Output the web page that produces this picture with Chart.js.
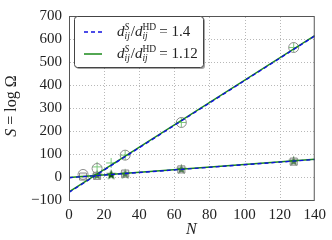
<!DOCTYPE html>
<html>
<head>
<meta charset="utf-8">
<script src="https://cdn.jsdelivr.net/npm/chart.js@4"></script>
<style>
  html, body { margin: 0; padding: 0; background: #fff; }
  #wrap { width: 332px; height: 240px; }
</style>
</head>
<body>
<div id="wrap"><canvas id="chart" width="332" height="240"></canvas></div>
<script>
// Datos
const fitN = [0, 140];
const steepBlue = [-67, 613];
const steepGreen = [-65, 615];
const flatBlue = [-3, 76];
const flatGreen = [-2, 77];

const circleN = [8, 16, 32, 64, 128];
const circleS = [11, 37, 95, 237, 563];
const squareN = [8, 16, 32, 64, 128];
const squareS = [2, 5, 15, 33, 67];
const starN = [16, 24, 32, 64, 128];
const starS = [7, 9, 12, 33, 68];
const plusN = [16, 24, 32, 64, 128];
const plusS = [44, 61, 95, 237, 563];

const legendRatios = ['1.4', '1.12'];
const serif = '"Liberation Serif", "DejaVu Serif", serif';

const BLUE = '#1010e0';
const GREEN = '#1a8a1a';
const GRAY = '#8c8c8c';

const pts = (xs, ys) => xs.map((x, i) => ({ x: x, y: ys[i] }));

// Estrella rellena como imagen de punto
function makeStar(r, color) {
    const c = document.createElement('canvas');
    c.width = c.height = r * 2 + 2;
    const g = c.getContext('2d');
    g.fillStyle = color;
    g.beginPath();
    for (let i = 0; i < 10; i++) {
        const rad = i % 2 === 0 ? r : r * 0.42;
        const ang = -Math.PI / 2 + i * Math.PI / 5;
        const px = r + 1 + rad * Math.cos(ang);
        const py = r + 1 + rad * Math.sin(ang);
        if (i === 0) g.moveTo(px, py); else g.lineTo(px, py);
    }
    g.closePath();
    g.fill();
    return c;
}
const starImg = makeStar(5.5, '#0b550b');

// Rejilla punteada (antes de los datos)
const dottedGrid = {
    id: 'dottedGrid',
    beforeDatasetsDraw(chart) {
        const ctx = chart.ctx;
        const a = chart.chartArea;
        const xs = chart.scales.x, ys = chart.scales.y;
        ctx.save();
        ctx.fillStyle = '#b8b8b8';
        xs.ticks.forEach(t => {
            const px = Math.round(xs.getPixelForValue(t.value));
            if (px <= a.left + 1 || px >= a.right - 1) return;
            for (let y = a.top + 1; y < a.bottom; y += 3) ctx.fillRect(px, y, 1, 1);
        });
        ys.ticks.forEach(t => {
            const py = Math.round(ys.getPixelForValue(t.value));
            if (py <= a.top + 1 || py >= a.bottom - 1) return;
            for (let x = a.left + 1; x < a.right; x += 3) ctx.fillRect(x, py, 1, 1);
        });
        ctx.restore();
    }
};

// Marco, leyenda y títulos
const decorations = {
    id: 'decorations',
    afterDraw(chart) {
        const ctx = chart.ctx;
        const a = chart.chartArea;
        ctx.save();
        ctx.strokeStyle = '#555';
        ctx.lineWidth = 1;
        ctx.strokeRect(a.left + 0.5, a.top + 0.5, a.right - a.left - 1, a.bottom - a.top);

        // Leyenda
        const lx = 74, ly = 16, lw = 129, lh = 51;
        ctx.fillStyle = 'rgba(0,0,0,0.35)';
        ctx.beginPath();
        ctx.roundRect(lx + 2, ly + 2, lw, lh, 3);
        ctx.fill();
        ctx.fillStyle = '#fff';
        ctx.strokeStyle = '#444';
        ctx.beginPath();
        ctx.roundRect(lx + 0.5, ly + 0.5, lw, lh, 3);
        ctx.fill();
        ctx.stroke();

        const rows = [ly + 16, ly + 38];
        const styles = [{ c: BLUE, d: [4, 3] }, { c: GREEN, d: [] }];
        rows.forEach((y, i) => {
            ctx.strokeStyle = styles[i].c;
            ctx.lineWidth = 1.5;
            ctx.setLineDash(styles[i].d);
            ctx.beginPath();
            ctx.moveTo(lx + 10, y);
            ctx.lineTo(lx + 28, y);
            ctx.stroke();
            ctx.setLineDash([]);
            drawRatio(ctx, lx + 43, y + 4, legendRatios[i]);
        });

        // Títulos de ejes
        ctx.fillStyle = '#222';
        ctx.textBaseline = 'alphabetic';
        ctx.textAlign = 'left';
        ctx.font = 'italic 16px ' + serif;
        ctx.fillText('N', 186, 234);

        ctx.translate(16, 106);
        ctx.rotate(-Math.PI / 2);
        ctx.font = 'italic 16px ' + serif;
        const sW = ctx.measureText('S').width;
        ctx.font = '16px ' + serif;
        const restW = ctx.measureText(' = log Ω').width;
        let x0 = -(sW + restW) / 2;
        ctx.font = 'italic 16px ' + serif;
        ctx.fillText('S', x0, 0);
        ctx.font = '16px ' + serif;
        ctx.fillText(' = log Ω', x0 + sW, 0);
        ctx.restore();
    }
};

function drawRatio(ctx, x, y, value) {
    ctx.fillStyle = '#222';
    ctx.textAlign = 'left';
    ctx.textBaseline = 'alphabetic';
    const part = (txt, font, dx, dy) => {
        ctx.font = font;
        ctx.fillText(txt, x + dx, y + dy);
        return ctx.measureText(txt).width;
    };
    const it = 'italic 15px ' + serif;
    const itS = 'italic 9.5px ' + serif;
    const up = '15px ' + serif;
    const upS = '9.5px ' + serif;
    let cx = 0;
    cx += part('d', it, cx, 0);
    const w1 = part('S', itS, cx, -6);
    const w2 = part('ij', itS, cx, 3);
    cx += Math.max(w1, w2) + 1;
    cx += part('/', up, cx, 0);
    cx += part('d', it, cx, 0);
    const w3 = part('HD', upS, cx, -6);
    const w4 = part('ij', itS, cx, 3);
    cx += Math.max(w3, w4) + 3;
    part('= ' + value, up, cx, 0);
}

new Chart(document.getElementById('chart'), {
    type: 'scatter',
    data: {
        datasets: [
            { type: 'line', data: pts(fitN, steepBlue), borderColor: BLUE, borderWidth: 1.4, borderDash: [4, 3], pointRadius: 0, fill: false },
            { type: 'line', data: pts(fitN, steepGreen), borderColor: GREEN, borderWidth: 1.6, pointRadius: 0, fill: false },
            { type: 'line', data: pts(fitN, flatBlue), borderColor: BLUE, borderWidth: 1.4, borderDash: [4, 3], pointRadius: 0, fill: false },
            { type: 'line', data: pts(fitN, flatGreen), borderColor: GREEN, borderWidth: 1.6, pointRadius: 0, fill: false },
            { data: pts(circleN, circleS), pointStyle: 'circle', pointRadius: 5, borderColor: GRAY, backgroundColor: 'rgba(0,0,0,0)', borderWidth: 1 },
            { data: pts(squareN, squareS), pointStyle: 'rect', pointRadius: 5, borderColor: GRAY, backgroundColor: 'rgba(200,200,200,0.35)', borderWidth: 1 },
            { data: pts(plusN, plusS), pointStyle: 'cross', pointRadius: 5, borderColor: '#7cc87c', borderWidth: 1 },
            { data: pts(starN, starS), pointStyle: starImg, pointRadius: 5 }
        ]
    },
    options: {
        responsive: false,
        animation: false,
        layout: { padding: { top: 9, right: 16, left: 0, bottom: 0 } },
        plugins: {
            legend: { display: false },
            tooltip: { enabled: false }
        },
        scales: {
            x: {
                type: 'linear',
                min: 0,
                max: 140,
                ticks: {
                    stepSize: 20,
                    color: '#222',
                    padding: 6,
                    font: { family: serif, size: 15 }
                },
                grid: { display: false, drawTicks: false },
                border: { display: false },
                afterFit(scale) { scale.height = 40; }
            },
            y: {
                min: -100,
                max: 700,
                ticks: {
                    stepSize: 100,
                    color: '#222',
                    padding: 7,
                    font: { family: serif, size: 15 },
                    callback: v => String(v).replace('-', '\u2212')
                },
                grid: { display: false, drawTicks: false },
                border: { display: false },
                afterFit(scale) { scale.width = 69; }
            }
        }
    },
    plugins: [dottedGrid, decorations]
});
</script>
</body>
</html>
